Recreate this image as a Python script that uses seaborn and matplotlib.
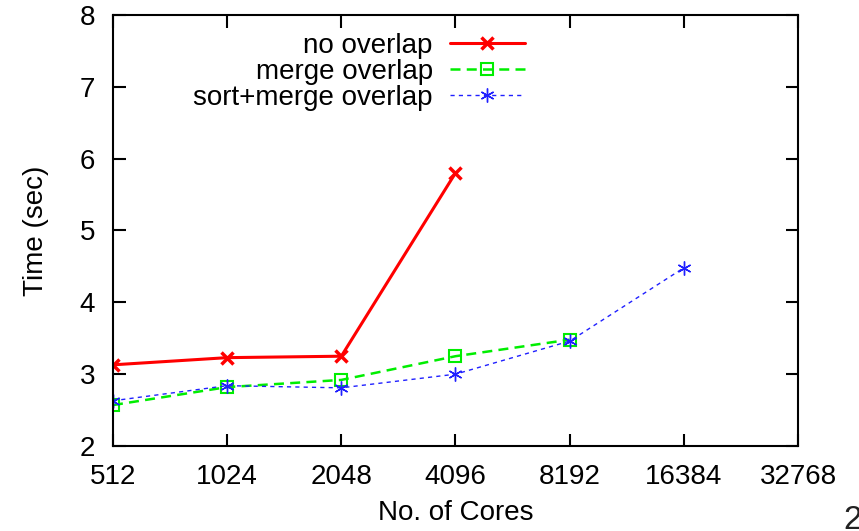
import pandas as pd
import matplotlib
matplotlib.use("Agg")
import matplotlib.pyplot as plt
import seaborn as sns

cores = [512, 1024, 2048, 4096, 8192, 16384, 32768]
xticklabels = ["512", "1024", "2048", "4096", "8192", "16384", "32768"]

no_overlap_x = [512, 1024, 2048, 4096]
no_overlap_y = [3.13, 3.23, 3.25, 5.80]

merge_x = [512, 1024, 2048, 4096, 8192]
merge_y = [2.57, 2.82, 2.92, 3.25, 3.48]

sortmerge_x = [512, 1024, 2048, 4096, 8192, 16384]
sortmerge_y = [2.63, 2.84, 2.81, 3.00, 3.46, 4.48]

sns.set_style("ticks")
plt.rcParams["font.family"] = ["Liberation Sans", "DejaVu Sans"]
plt.rcParams["text.color"] = "black"
plt.rcParams["axes.labelcolor"] = "black"

fig = plt.figure(figsize=(8.59, 5.31), dpi=100)
ax = fig.add_axes([0.1315, 0.160, 0.7975, 0.812])

sns.lineplot(x=no_overlap_x, y=no_overlap_y, ax=ax, color="#ff0000",
             linewidth=2.2, marker="x", markersize=8, markeredgewidth=2.5,
             markeredgecolor="#ff0000", label="no overlap")
sns.lineplot(x=merge_x, y=merge_y, ax=ax, color="#00ee00",
             linewidth=1.8, linestyle=(0, (4, 2.5)), marker="s", markersize=8,
             markerfacecolor="none", markeredgecolor="#00ee00", markeredgewidth=1.5,
             label="merge overlap")
sns.lineplot(x=sortmerge_x, y=sortmerge_y, ax=ax, color="#2020ff",
             linewidth=1.0, linestyle=(0, (3, 3)), marker=(6, 2, 0), markersize=10,
             markeredgewidth=1.0, markeredgecolor="#2020ff",
             label="sort+merge overlap")

ax.set_xscale("log", base=2)
ax.set_xlim(512, 32768)
ax.set_ylim(2, 8)
ax.set_xticks(cores)
ax.set_xticklabels(xticklabels)
ax.minorticks_off()
ax.set_yticks([2, 3, 4, 5, 6, 7, 8])

ax.tick_params(direction="in", length=9, width=1.5, top=True, right=True,
               labelsize=20, colors="black", pad=13)
for s in ax.spines.values():
    s.set_linewidth(1.5)
    s.set_color("black")

ax.set_xlabel("No. of Cores", fontsize=20, labelpad=7)
ax.set_ylabel("Time (sec)", fontsize=20, labelpad=22)

ax.legend(loc="upper right", bbox_to_anchor=(0.617, 0.984), frameon=False,
          markerfirst=False, fontsize=20, handlelength=2.7, handletextpad=0.6,
          labelspacing=0.0, borderaxespad=0.0)
leg = ax.get_legend()
for t in leg.get_texts():
    t.set_ha("right")
leg._legend_box.align = "right"

fig.text(843 / 859, -0.01, "2", fontsize=24, ha="left", va="bottom", color="#222222")

fig.savefig("out.png", dpi=100)
